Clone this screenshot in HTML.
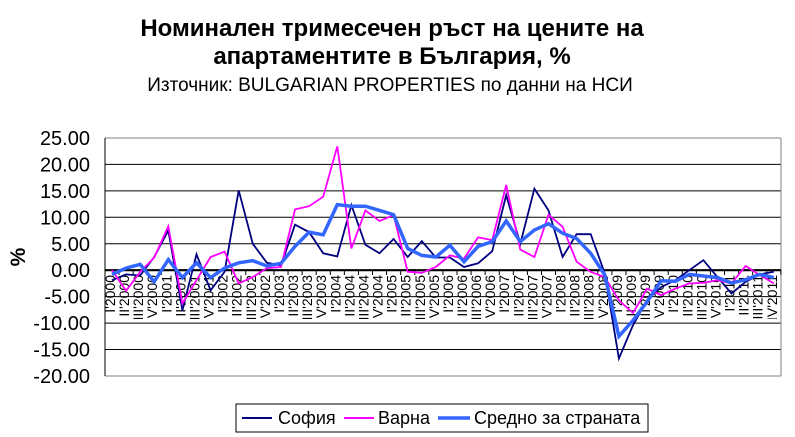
<!DOCTYPE html>
<html><head><meta charset="utf-8"><style>
html,body{margin:0;padding:0;background:#fff;width:795px;height:437px;overflow:hidden}
svg{display:block;font-family:"Liberation Sans",sans-serif}
</style></head><body>
<svg id="c" width="795" height="437" xmlns="http://www.w3.org/2000/svg">
<defs><clipPath id="lc"><rect x="100" y="272" width="690" height="47"/></clipPath></defs>
<text x="392" y="36" text-anchor="middle" font-size="24" font-weight="bold">Номинален тримесечен ръст на цените на</text>
<text x="392" y="64" text-anchor="middle" font-size="24" font-weight="bold">апартаментите в България, %</text>
<text x="390" y="91" text-anchor="middle" font-size="19">Източник: BULGARIAN PROPERTIES по данни на НСИ</text>
<text transform="translate(25,257) rotate(-90)" text-anchor="middle" font-size="21" font-weight="bold">%</text>
<g id="grid"></g>
<g id="lab" font-size="14" clip-path="url(#lc)"></g>
<g id="ser" fill="none" stroke-linejoin="miter"></g>
<rect x="236" y="404" width="412" height="28" fill="#fff" stroke="#000" stroke-width="1"/>
<line x1="242" y1="418" x2="272" y2="418" stroke="#000080" stroke-width="2"/>
<text x="278" y="424" font-size="18">София</text>
<line x1="344" y1="418" x2="374" y2="418" stroke="#ff00ff" stroke-width="2"/>
<text x="378" y="424" font-size="18">Варна</text>
<line x1="438" y1="418" x2="470" y2="418" stroke="#3366ff" stroke-width="3.5"/>
<text x="474" y="424" font-size="18">Средно за страната</text>
</svg>
<script>
var NS="http://www.w3.org/2000/svg";
function el(p,n,a,t){var e=document.createElementNS(NS,n);for(var k in a)e.setAttribute(k,a[k]);if(t)e.textContent=t;p.appendChild(e);return e;}
var L=105,R=781,T=138,B=376;
function Y(v){return 270.2-5.289*v;}
function X(i){return 112+14.08*i;}
var g=document.getElementById("grid");
for(var v=25;v>=-20;v-=5){
  var y=Y(v);
  if(v!=0) el(g,"line",{x1:L,y1:y,x2:R,y2:y,stroke:(v==25||v==-20)?"#808080":"#000","stroke-width":1});
  el(g,"text",{x:90,y:y+7,"text-anchor":"end","font-size":20},v.toFixed(2));
}
el(g,"line",{x1:R,y1:T,x2:R,y2:B,stroke:"#808080"});
el(g,"line",{x1:L,y1:T,x2:L,y2:B,stroke:"#000"});
var lab=document.getElementById("lab");
var q=["I","II","III","IV"];
for(var i=0;i<48;i++){
  var yr=2000+Math.floor(i/4);
  var s=q[i%4]+"'"+yr;
  el(lab,"text",{transform:"translate("+(X(i)+3)+",275) rotate(-90)","text-anchor":"end"},s);
}
for(var i=0;i<=48;i++){var x=L+14.08*i;el(g,"line",{x1:x,y1:270,x2:x,y2:275,stroke:"#000"});}
el(g,"line",{x1:L,y1:270.2,x2:R,y2:270.2,stroke:"#000","stroke-width":2.2});
var sofia=[-1.9,-0.8,-1,2.5,7.5,-7.6,3.0,-3.8,-0.3,15.1,5,1.4,0.9,8.6,7.2,3.2,2.6,12.3,4.8,3.2,5.9,2.5,5.5,2.4,2.4,0.6,1.3,3.6,14.2,5.0,15.4,11.3,2.5,6.8,6.8,-0.6,-16.7,-10.4,-5.7,-3.2,-1.9,0,1.9,-1.3,-4.4,-2.2,-0.8,-0.3];
var varna=[0,-3.9,-0.3,2.4,8.3,-6.3,-1.9,2.5,3.5,-2.5,-1.3,0.4,0.6,11.5,12.1,13.9,23.4,4.1,11.3,9.3,10.4,-0.3,-0.5,0.6,2.8,2.2,6.2,5.7,16.1,3.9,2.5,10.5,8.2,1.6,-0.3,-1.3,-5.7,-8.1,-3.5,-4.7,-3.5,-2.5,-2.4,-1.9,-2.5,0.8,-0.9,-2.5];
var avg=[-0.8,0.4,1.1,-2.2,2.0,-1.4,1.4,-1.4,0.4,1.4,1.8,0.8,1.3,4.5,7.2,6.7,12.4,12.1,12.1,11.3,10.5,4.1,2.8,2.5,4.7,1.6,4.5,5.4,9.3,5.4,7.6,8.8,7.0,6.0,3.2,-0.9,-12.5,-9.5,-6.0,-2.0,-2.1,-0.8,-1.1,-1.4,-2.4,-1.8,-0.8,-1.4];
var ser=document.getElementById("ser");
function pl(d,c,w){var p=d.map(function(v,i){return X(i).toFixed(1)+","+Y(v).toFixed(1)}).join(" ");el(ser,"polyline",{points:p,stroke:c,"stroke-width":w});}
pl(sofia,"#000080",1.8);
pl(varna,"#ff00ff",1.8);
pl(avg,"#3366ff",3.5);
</script>
</body></html>
